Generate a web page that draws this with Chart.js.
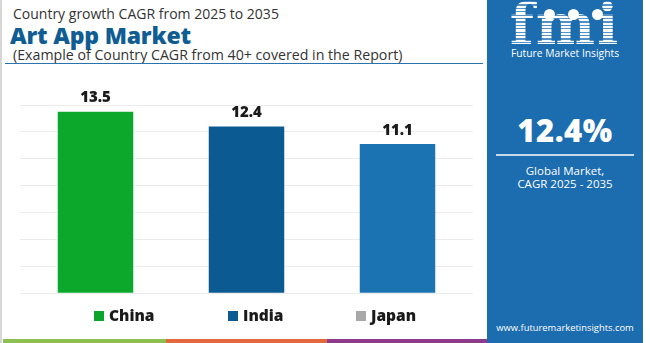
<!DOCTYPE html>
<html>
<head>
<meta charset="utf-8">
<script src="https://cdn.jsdelivr.net/npm/chart.js@4/dist/chart.umd.min.js"></script>
<style>
  html, body { margin: 0; padding: 0; background: #fff; }
  #page { position: relative; width: 650px; height: 343px; overflow: hidden; background: #fff;
          font-family: "Open Sans", "Noto Sans", sans-serif; }
  #edge { position: absolute; left: 0; top: 0; width: 2px; height: 343px; background: #d6d6d6; }
  .t1 { position: absolute; left: 13px; top: 4px; font-size: 14px; color: #333; white-space: nowrap; }
  .t2 { position: absolute; left: 10px; top: 19px; font-size: 23px; font-weight: 800; color: #0f5d93; white-space: nowrap; letter-spacing: -0.2px; }
  .t3 { position: absolute; left: 13px; top: 45px; font-size: 14.2px; color: #333; white-space: nowrap; }
  #rule { position: absolute; left: 5px; top: 63px; width: 478px; height: 1px; background: #2a73ad; }
  #chartBox { position: absolute; left: 0; top: 0; width: 480px; height: 343px; }
  .leg { position: absolute; top: 304px; font-size: 15.5px; font-weight: 800; color: #1a1a1a; white-space: nowrap; }
  .leg i { display: inline-block; width: 10px; height: 10px; margin-right: 5px; vertical-align: 0px; }
  .strip { position: absolute; top: 339px; height: 4px; }
  #panel { position: absolute; left: 487px; top: 0; width: 156px; height: 343px; background: #1c6cb0; color: #fff; text-align: center; }
  #logo { position: absolute; left: 0; top: -8px; width: 156px; text-align: center; font-family: "DejaVu Serif", serif;
          font-weight: 700; font-size: 56px; letter-spacing: 2px; line-height: 64px;
          background: repeating-linear-gradient(to bottom, #fff 0px, #fff 2.2px, rgba(255,255,255,0.25) 2.2px, rgba(255,255,255,0.25) 3.4px);
          -webkit-background-clip: text; background-clip: text; color: transparent; }
  .dot { position: absolute; width: 11px; height: 11px; border-radius: 50%; background: #fff; top: 9px; }
  #fmiName { position: absolute; left: 0; top: 46px; width: 156px; font-size: 10.3px; }
  #big { position: absolute; left: 0; top: 109px; width: 156px; font-size: 31px; font-weight: 800; letter-spacing: 0.5px; }
  #pline { position: absolute; left: 9px; top: 154px; width: 138px; height: 2px; background: rgba(255,255,255,0.75); }
  #g1 { position: absolute; left: 0; top: 164px; width: 156px; font-size: 11.5px; line-height: 13px; }
  #g2 { position: absolute; left: 0; top: 177px; width: 156px; font-size: 11.5px; line-height: 13px; }
  #url { position: absolute; left: 0; top: 321px; width: 156px; font-size: 9.4px; }
</style>
</head>
<body>
<div id="page">
  <div id="edge"></div>
  <div class="t1">Country growth CAGR from 2025 to 2035</div>
  <div class="t2">Art App Market</div>
  <div class="t3">(Example of Country CAGR from 40+ covered in the Report)</div>
  <div id="rule"></div>

  <div id="chartBox"><canvas id="c" width="480" height="343"></canvas></div>

  <div class="leg" style="left:94px"><i style="background:#0ba52c"></i>China</div>
  <div class="leg" style="left:228px"><i style="background:#0b5a91"></i>India</div>
  <div class="leg" style="left:356px"><i style="background:#a8a8a8"></i>Japan</div>

  <div class="strip" style="left:3px;width:163px;background:#8cc152"></div>
  <div class="strip" style="left:166px;width:161px;background:#e3683b"></div>
  <div class="strip" style="left:327px;width:163px;background:#8e3b8e"></div>

  <div id="panel">
    <div id="logo">fmi</div>
    <div class="dot" style="left:57px"></div>
    <div class="dot" style="left:81px"></div>
    <div class="dot" style="left:105px"></div>
    <div id="fmiName">Future Market Insights</div>
    <div id="big">12.4%</div>
    <div id="pline"></div>
    <div id="g1">Global Market,</div>
    <div id="g2">CAGR 2025 - 2035</div>
    <div id="url">www.futuremarketinsights.com</div>
  </div>
</div>

<script>
// Country CAGR values, 2025-2035 (%)
const countries = ["China", "India", "Japan"];
const cagrValues = [13.5, 12.4, 11.1];
const barColors = ["#0ba82c", "#0b5a91", "#1b73b2"];
const yTicks = [0, 2, 4, 6, 8, 10, 12, 14];

// Writes each bar's value just above it
const valueLabels = {
  id: "valueLabels",
  afterDatasetsDraw(chart) {
    const ctx = chart.ctx;
    const meta = chart.getDatasetMeta(0);
    ctx.save();
    ctx.font = "800 15px 'Open Sans', sans-serif";
    ctx.fillStyle = "#1a1a1a";
    ctx.textAlign = "center";
    ctx.textBaseline = "bottom";
    meta.data.forEach((bar, i) => {
      ctx.fillText(String(cagrValues[i]), bar.x, bar.y - 6);
    });
    ctx.restore();
  }
};

new Chart(document.getElementById("c"), {
  type: "bar",
  data: {
    labels: countries,
    datasets: [{
      data: cagrValues,
      backgroundColor: barColors,
      borderWidth: 0,
      categoryPercentage: 1,
      barPercentage: 0.5
    }]
  },
  options: {
    responsive: false,
    animation: false,
    layout: { padding: { left: 20, right: 7, top: 105, bottom: 49.7 } },
    plugins: { legend: { display: false }, tooltip: { enabled: false } },
    scales: {
      x: { display: false },
      y: {
        min: yTicks[0],
        max: yTicks[yTicks.length - 1],
        afterBuildTicks(axis) { axis.ticks = yTicks.map(v => ({ value: v })); },
        ticks: { display: false },
        border: { display: false },
        grid: { color: "#ececec", lineWidth: 1, drawTicks: false }
      }
    }
  },
  plugins: [valueLabels]
});
</script>
</body>
</html>
